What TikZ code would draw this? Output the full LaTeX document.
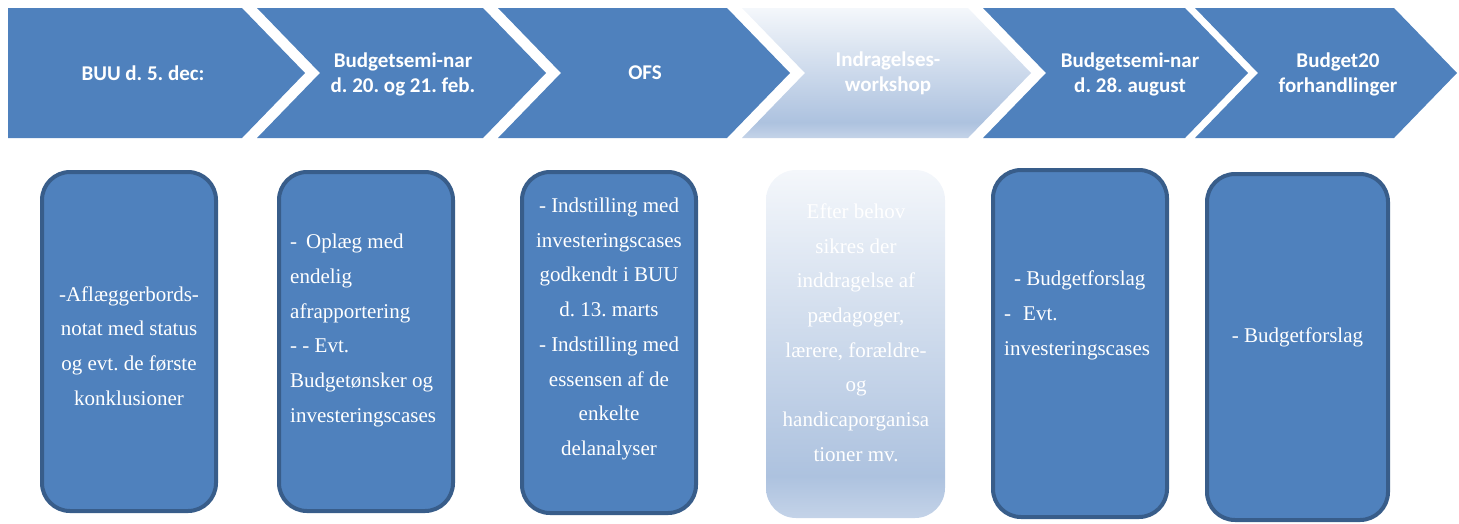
\documentclass[tikz,border=0pt]{standalone}
\usepackage{fontspec}
\setmainfont{Liberation Serif}
\newfontfamily\calibri{Carlito}
\frenchspacing
\definecolor{stageblue}{HTML}{4F81BD}
\definecolor{cardedge}{HTML}{385D8A}
\definecolor{fadetop}{HTML}{F4F7FB}
\definecolor{fadedeep}{HTML}{ADC2DF}
\definecolor{fadebot}{HTML}{C4D3E8}
\pgfdeclareverticalshading{workshopfade}{100bp}{color(0bp)=(fadebot); color(25bp)=(fadebot); color(31bp)=(fadedeep); color(75bp)=(fadetop); color(100bp)=(fadetop)}

\begin{document}
\begin{tikzpicture}[
    x=1pt, y=-1pt,
    stage/.style={fill=stageblue},
    stagefade/.style={shading=workshopfade},
    stagelabel/.style={text=white, align=center, inner sep=0pt, font=\calibri\bfseries\fontsize{21}{25}\selectfont},
    card/.style={rectangle, draw=cardedge, line width=4pt, fill=stageblue, rounded corners=28pt, minimum width=174pt, minimum height=339pt},
    cardfade/.style={rectangle, shading=workshopfade, rounded corners=30pt, minimum width=179pt, minimum height=348pt},
    cardtext/.style={text=white, inner sep=0pt, font=\fontsize{21}{34.7}\selectfont},
]
\useasboundingbox (0,0) rectangle (1459,523);

% Stages (top row)
\fill[stage] (8,8) -- (242,8) -- (305,73) -- (242,138) -- (8,138) -- cycle;
\foreach \xa/\xb/\look in {257/483/stage, 498/727/stage, 742/968/stagefade, 983/1185/stage, 1195/1394/stage}
    \path[\look] (\xa,8) -- (\xb,8) -- ++(63,65) -- (\xb,138) -- (\xa,138) -- ++(63,-65) -- cycle;

\node[stagelabel] (buu) at (143,73) {BUU d. 5. dec:};
\node[stagelabel] (seminarfeb) at (403,74) {Budgetsemi-nar\\d. 20. og 21. feb.};
\node[stagelabel] (ofs) at (645,73) {OFS};
\node[stagelabel] (workshop) at (888,73) {Indragelses-\\workshop};
\node[stagelabel] (seminaraug) at (1130,74) {Budgetsemi-nar\\d. 28. august};
\node[stagelabel] (forhandling) at (1338,74) {Budget20\\forhandlinger};

% Cards (bottom row)
\node[card] (buucard) at (129,341.5) {};
\node[card] (febcard) at (366,341.5) {};
\node[card, minimum height=341pt] (ofscard) at (609,342.5) {};
\node[cardfade] (workshopcard) at (855.5,344) {};
\node[card, minimum height=347pt] (augcard) at (1080,343.5) {};
\node[card, minimum width=181pt, minimum height=346pt] (budgetcard) at (1297.5,347) {};

% Card texts
\node[cardtext, align=center] (buutext) at (129,346) {-Aflæggerbords-\\notat med status\\og evt. de første\\konklusioner};
\node[cardtext, align=left, anchor=west] (febtext) at (290,330.5) {-\hspace{9pt}Oplæg med\\endelig\\afrapportering\\- - Evt.\\Budgetønsker og\\investeringscases};
\node[cardtext, align=center] (ofstext) at (609,329) {- Indstilling med\\investeringscases\\godkendt i BUU\\d. 13. marts\\- Indstilling med\\essensen af de\\enkelte\\delanalyser};
\node[cardtext, align=center] (workshoptext) at (856,332.5) {Efter behov\\sikres der\\inddragelse af\\pædagoger,\\lærere, forældre-\\og\\handicaporganisa\\tioner mv.};
\node[cardtext, align=left, anchor=west] (augtext) at (1004,315.5) {\hspace{10pt}- Budgetforslag\\-\hspace{12pt}Evt.\\investeringscases};
\node[cardtext, align=center] (budgettext) at (1297.5,337) {- Budgetforslag};

\end{tikzpicture}
\end{document}
